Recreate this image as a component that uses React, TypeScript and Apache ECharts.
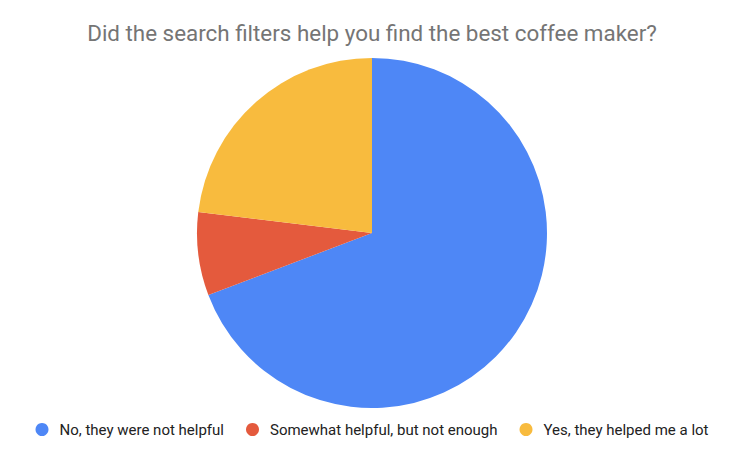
import { useEffect, useRef } from 'react';
import * as echarts from 'echarts';

// Survey answers (counts)
const answers = ['No, they were not helpful', 'Somewhat helpful, but not enough', 'Yes, they helped me a lot'];
const counts = [9, 1, 3];
const colors = ['#4e87f6', '#e45a3d', '#f8bb3e'];

const App = () => {
    const chartRef = useRef<HTMLDivElement>(null);

    useEffect(() => {
        if (!chartRef.current) return;
        const chart = echarts.init(chartRef.current, undefined, { renderer: 'svg' });

        chart.setOption({
            animation: false,
            backgroundColor: '#ffffff',
            color: colors,
            textStyle: { fontFamily: 'Roboto' },
            title: {
                text: 'Did the search filters help you find the best coffee maker?',
                left: 'center',
                top: 17,
                textStyle: { fontSize: 22.4, fontWeight: 'normal', color: '#757575', fontFamily: 'Roboto' }
            },
            legend: {
                data: answers,
                bottom: 16,
                left: 'center',
                icon: 'circle',
                itemWidth: 13,
                itemHeight: 13,
                itemGap: 22,
                textStyle: { fontSize: 15, color: '#222222', fontFamily: 'Roboto', padding: [0, 0, 0, 6] }
            },
            series: [
                {
                    type: 'pie',
                    center: [372, 233],
                    radius: 175,
                    startAngle: 90,
                    clockwise: true,
                    label: { show: false },
                    labelLine: { show: false },
                    emphasis: { disabled: true },
                    data: answers.map((name, i) => ({ name, value: counts[i] }))
                }
            ]
        });

        return () => {
            chart.dispose();
        };
    }, []);

    return (
        <div
            ref={chartRef}
            style={{ position: 'fixed', left: 0, top: 0, width: '744px', height: '458px' }}
        />
    );
};

export default App;
